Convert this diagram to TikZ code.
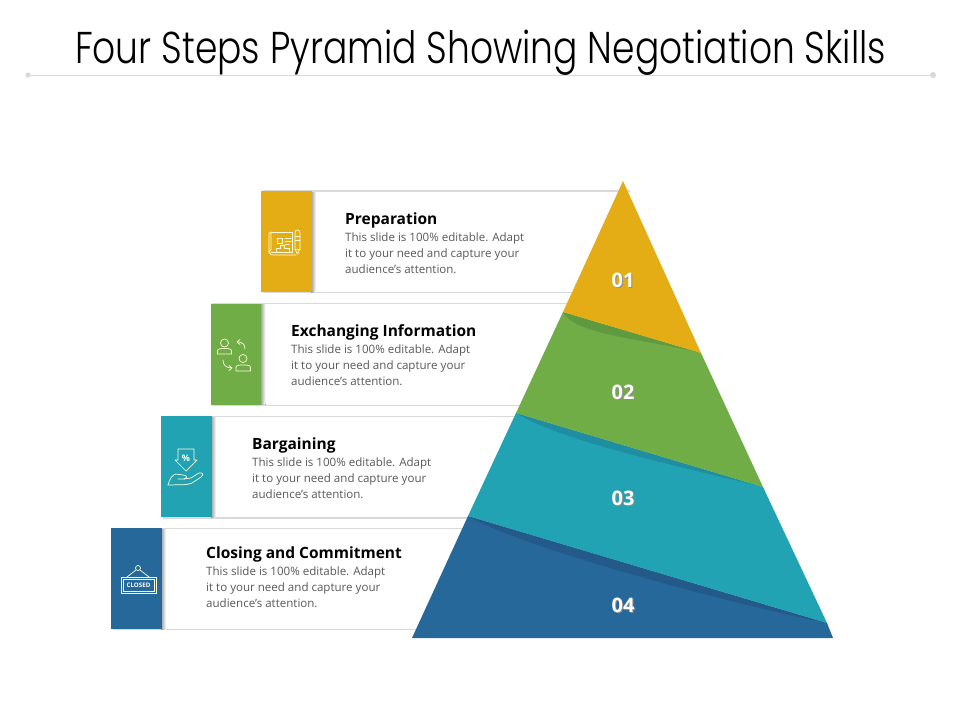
\documentclass[tikz,border=0pt]{standalone}
\usepackage{fontspec}
\setmainfont{Open Sans}
\newfontfamily\titlefont{Poppins Light}
\usetikzlibrary{calc}
\definecolor{cyel}{HTML}{E4AD15}
\definecolor{cgrn}{HTML}{70AD47}
\definecolor{cteal}{HTML}{21A3B3}
\definecolor{cblue}{HTML}{27689B}
\definecolor{dgrn}{HTML}{5F9A40}
\definecolor{dteal}{HTML}{1F8EA3}
\definecolor{dblue}{HTML}{245A8A}
\definecolor{rulec}{HTML}{D9D9D9}
\definecolor{bodyc}{HTML}{595959}
\tikzset{
 x=1pt,y=-1pt,
 colorbar/.style={minimum width=50.5pt,minimum height=101pt,inner sep=0pt,anchor=north west,draw=none},
 head/.style={font=\fontsize{15.5}{18}\selectfont\bfseries,text=black,anchor=west,inner sep=0pt},
 body/.style={font=\fontsize{11.55}{16}\selectfont,text=bodyc,anchor=north west,inner sep=0pt,align=left},
 num/.style={font=\fontsize{20}{22}\selectfont\bfseries,text=white,inner sep=0pt},
 numsh/.style={font=\fontsize{20}{22}\selectfont\bfseries,text=black!45,inner sep=0pt},
 edge/.style={draw=rulec,line width=1.2pt},
 icon/.style={draw=white!85!yellow,line width=.7pt,fill=none,line cap=round,line join=round},
}
\newcommand{\bodytext}{This slide is 100\% editable. Adapt\\it to your need and capture your\\audience’s attention.}
\newcommand{\cardx}[4]{% x, top y, colour, name
 \fill[left color=black!38,right color=white] (#1+50,#2+1) rectangle (#1+55,#2+101);
 \node[colorbar,fill=#3] (#4) at (#1,#2) {};
}
\begin{document}
\begin{tikzpicture}
\useasboundingbox (0,0) rectangle (960,720);
\fill[white] (0,0) rectangle (960,720);
% title
\node[font=\titlefont,inner sep=0pt] (title) at (480.5,53) {\resizebox{811pt}{33.5pt}{\fontsize{30}{36}\selectfont Four Steps Pyramid Showing Negotiation Skills}};
\coordinate (rl) at (28,75); \coordinate (rr) at (933,75);
\draw[rulec,line width=1pt] (rl) -- (rr);
\fill[rulec] (rl) circle (2.5); \fill[rulec] (rr) circle (3);
% rules behind cards
\draw[edge] (263,191) -- (630,191); \draw[edge] (263,292.5) -- (600,292.5);
\draw[edge] (212,303.5) -- (570,303.5); \draw[edge] (212,405.5) -- (530,405.5);
\draw[edge] (163,416.5) -- (525,416.5); \draw[edge] (163,518) -- (480,518);
\draw[edge] (113,528.5) -- (470,528.5); \draw[edge] (113,629.5) -- (425,629.5);
% cards
\cardx{261}{191}{cyel}{c1}
\cardx{210.5}{303.5}{cgrn}{c2}
\cardx{161}{416}{cteal}{c3}
\cardx{111}{528}{cblue}{c4}
% pyramid
\fill[cblue] (468,516) -- (412,638) -- (833,638) -- (827,623) -- cycle;
\fill[dblue] (468,516) .. controls (505,540) and (690,595) .. (827,623) -- cycle;
\fill[cteal] (516,413) -- (468,516) -- (827,623) -- (763,487) -- cycle;
\fill[dteal] (516,413) .. controls (560,440) and (660,462) .. (763,487) -- cycle;
\fill[cgrn] (563,312) -- (516,413) -- (763,487) -- (701,353) -- cycle;
\fill[dgrn] (563,312) .. controls (575,335) and (640,338) .. (701,353) -- cycle;
\fill[cyel] (623,181) -- (563,312) -- (701,353) -- cycle;
% numbers
\foreach \n/\y in {01/280,02/392,03/498.5,04/605}{
 \node[numsh] at (624,\y+1) {\n};
 \node[num] (n\n) at (623,\y) {\n};
}
% texts
\node[head] (h1) at (345,220) {Preparation};
\node[body] (b1) at (345,232.5) {\bodytext};
\node[head] (h2) at (291,332) {Exchanging Information};
\node[body] (b2) at (291,344.5) {\bodytext};
\node[head] (h3) at (252,445) {Bargaining};
\node[body] (b3) at (252,457.5) {\bodytext};
\node[head] (h4) at (206,554) {Closing and Commitment};
\node[body] (b4) at (206,566.5) {\bodytext};
% icon 1: plan
\draw[icon] (271,232) -- (292,232) -- (292,252) -- (271,252);
\draw[icon] (271,232) .. controls (268,232) and (269,235) .. (269,237) -- (269,252) .. controls (269,255) and (272,255) .. (274,255) -- (296,255);
\draw[icon] (271,232) -- (271,250) .. controls (269,250) and (269,252) .. (269,252);
\draw[icon] (277,238) rectangle (282,243);
\draw[icon] (285,238) -- (291,238) (285,241) -- (291,241) (285,244) -- (289,244);
\draw[icon] (276,252) -- (276,248) -- (280,248) -- (280,245.5) -- (284,245.5) -- (284,248) -- (289,248) -- (289,252);
\draw[icon] (295,233) -- (295,249) -- (297.5,254) -- (300,249) -- (300,233) .. controls (300,229) and (295,229) .. (295,233);
\draw[icon] (295,236) -- (300,236) (295,240) -- (300,240) (295,249) -- (300,249);
% icon 2: exchange
\draw[icon] (224.5,343) circle (4);
\draw[icon] (217.5,354) -- (217.5,351) .. controls (217.5,348.5) and (221,348.5) .. (224.5,348.5) .. controls (228,348.5) and (231.5,348.5) .. (231.5,351) -- (231.5,354) -- cycle;
\draw[icon] (243,358.5) circle (4);
\draw[icon] (236,371) -- (236,367.5) .. controls (236,365) and (239.5,365) .. (243,365) .. controls (246.5,365) and (250.5,365) .. (250.5,367.5) -- (250.5,371) -- cycle;
\draw[icon] (245,349) .. controls (245,344) and (242,342) .. (237.5,342);
\draw[icon] (240,339.5) -- (237,342) -- (240,344.5);
\draw[icon] (223,360) .. controls (223,365) and (226,368) .. (232,368);
\draw[icon] (229,365.5) -- (232,368) -- (229,370.5);
% icon 3: discount hand
\draw[icon] (178,449) -- (194,449) -- (194,460) -- (197,460) -- (186,471) -- (175,460) -- (178,460) -- cycle;
\node[font=\fontsize{9}{9}\selectfont\bfseries,text=white,inner sep=0pt] (pc) at (186,458) {\%};
\draw[icon] (168,485) .. controls (170,478) and (172,475) .. (176,474) -- (183,475) .. controls (187,475) and (188,478) .. (184,479) -- (178,479);
\draw[icon] (184,479) -- (191,478) -- (199,473) .. controls (203,472) and (204,475) .. (201,477) -- (192,483) .. controls (186,486) and (178,484) .. (172,485) -- (168,485);
% icon 4: closed sign
\draw[icon] (121,577) rectangle (156,593);
\draw[icon] (123,579) rectangle (154,591);
\draw[icon] (138,568) circle (2.5);
\draw[icon] (136,570) -- (127,577) (140,570) -- (149,577);
\node[font=\fontsize{6.2}{7}\selectfont\bfseries,text=white,inner sep=0pt] (closed) at (138.5,585) {CLOSED};
\end{tikzpicture}
\end{document}
